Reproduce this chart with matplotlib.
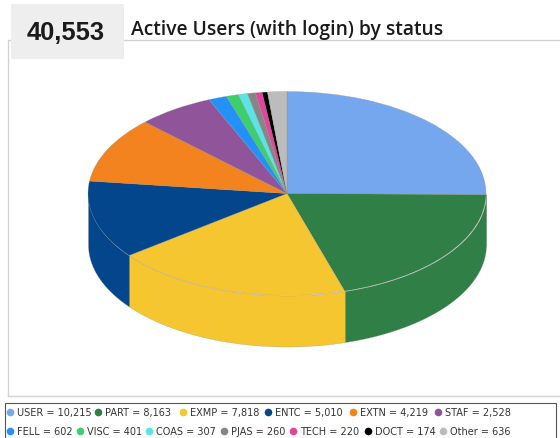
#!/usr/bin/env python3

import numpy as np
import matplotlib
matplotlib.use("Agg")
import matplotlib.pyplot as plt
from matplotlib.patches import Rectangle

statuses = ["USER", "PART", "EXMP", "ENTC", "EXTN", "STAF", "FELL", "VISC",
            "COAS", "PJAS", "TECH", "DOCT", "Other"]
counts = [10215, 8163, 7818, 5010, 4219, 2528, 602, 401, 307, 260, 220, 174, 636]
colors = ["#75a7ee", "#2f7f47", "#f6c631", "#03468c", "#f3831f", "#8f5499",
          "#2491fb", "#3dcf6e", "#5be3e6", "#868686", "#e2459b", "#000000",
          "#bcbcbc"]
total_label = "40,553"
title = "Active Users (with login) by status"

W, H = 560, 439
fig = plt.figure(figsize=(W / 100, H / 100), dpi=100)

# page layer in pixel coordinates
bg = fig.add_axes([0, 0, 1, 1])
bg.set_xlim(0, W)
bg.set_ylim(H, 0)
bg.axis("off")

# chart frame
bg.plot([8, 8, 560], [397, 41, 41], color="#d2d2d2", lw=1)
bg.plot([8, 560], [397, 397], color="#d2d2d2", lw=1)

# count badge and title
bg.add_patch(Rectangle((11, 5), 113, 55, facecolor="#eeeeee", edgecolor="none", zorder=3))
bg.text(66, 33, total_label, fontsize=18.4, fontweight="bold", family="Liberation Sans",
        color="#1a1a1a", ha="center", va="center", zorder=4)
bg.text(131, 30, title, fontsize=13.9, fontweight="semibold", family="Open Sans",
        color="#1a1a1a", ha="left", va="center")

# pie top surface: axes squashed so that the unit circle becomes the ellipse
cx, cy, rx, ry = 287, 194.5, 199, 102
edge = (0.55, 0.55, 0.55, 0.6)
pad = 1.5
pie_ax = fig.add_axes([(cx - rx * pad) / W, 1 - (cy + ry * pad) / H,
                       2 * rx * pad / W, 2 * ry * pad / H])
pie_ax.patch.set_alpha(0)
wedges, _ = pie_ax.pie(counts, colors=colors, startangle=90, counterclock=False,
                       radius=1, wedgeprops={"linewidth": 0.3, "edgecolor": edge, "zorder": 3})
pie_ax.set_aspect("auto")
pie_ax.set_xlim(-pad, pad)
pie_ax.set_ylim(-pad, pad)

# side wall: outer rim of every slice that lies on the front half
depth = 51 / ry
edges = 90 - 360 * np.cumsum([0] + counts) / sum(counts)
for start, end, col in zip(edges[:-1], edges[1:], colors):
    low, high = end, start
    # keep only the part of the slice between 180 and 360 degrees
    a = (low % 360)
    b = a + (high - low)
    for lo, hi in [(a, b), (a - 360, b - 360)]:
        lo2, hi2 = max(lo, -180), min(hi, 0)
        if hi2 <= lo2:
            continue
        t = np.radians(np.linspace(lo2, hi2, 60))
        pie_ax.fill_between(np.cos(t), np.sin(t), np.sin(t) - depth, facecolor=col,
                            edgecolor=edge, lw=0.3, zorder=2, clip_on=False)

# legend box
bg.add_patch(Rectangle((5, 404), 551, 40, facecolor="white", edgecolor="#555555", lw=0.8))
row1_x = [10, 98, 183, 268, 353, 438]
row2_x = [10, 80, 149, 224, 293, 368, 443]
places = [(x, 413) for x in row1_x] + [(x, 432) for x in row2_x]
for name, n, col, (x, y) in zip(statuses, counts, colors, places):
    bg.plot(x, y, "o", ms=5.5, color=col, mew=0)
    bg.text(x + 7, y, f"{name} = {n:,}", fontsize=7, family="DejaVu Sans",
            color="#333333", ha="left", va="center")

fig.savefig("out.png", dpi=100)
